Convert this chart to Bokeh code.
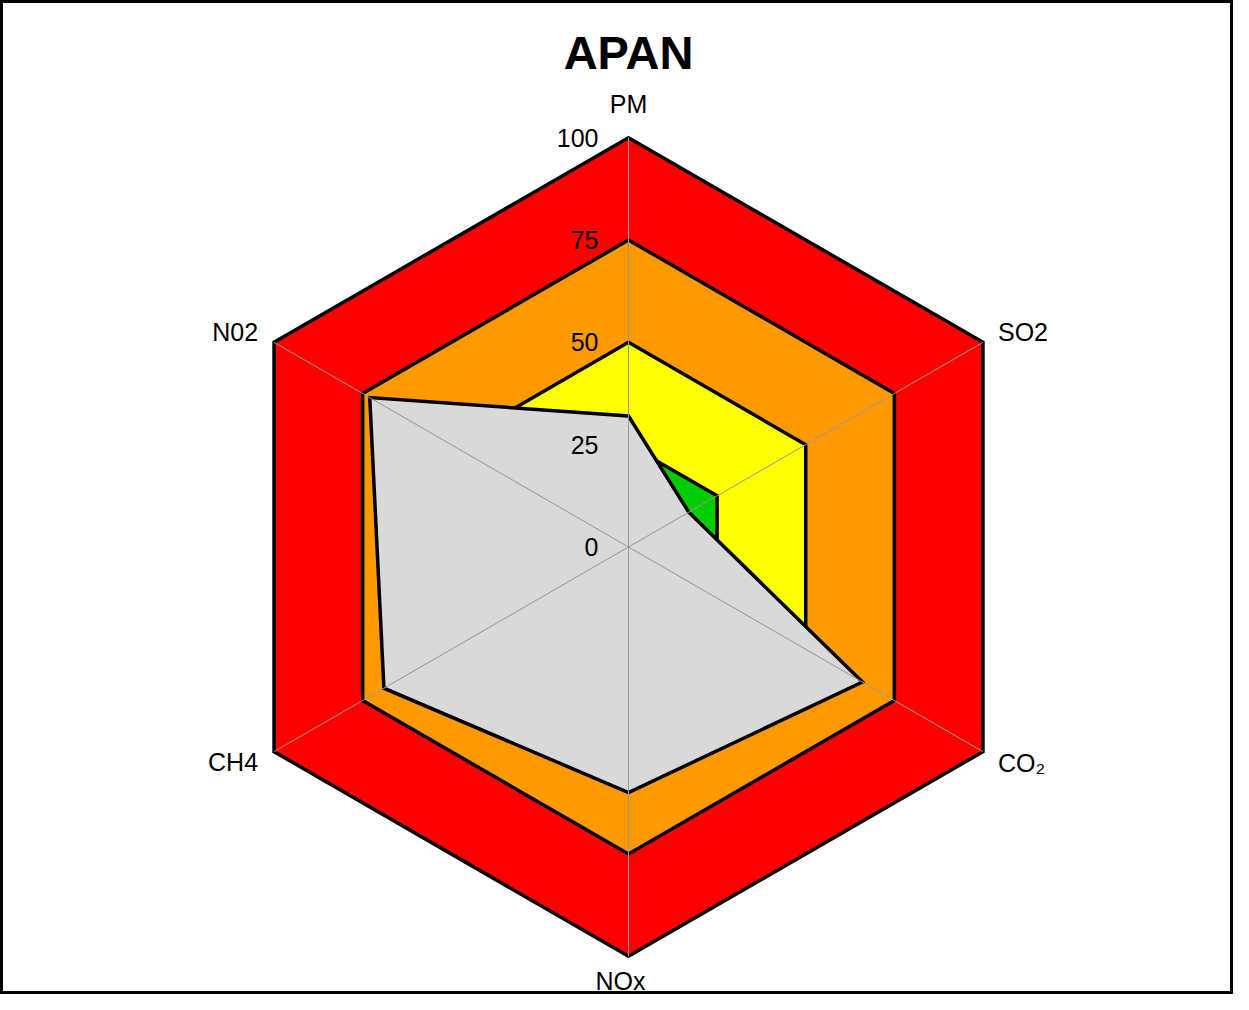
import numpy as np
from bokeh.plotting import figure
from bokeh.models import Label
from bokeh.embed import file_html
from bokeh.resources import INLINE
from bokeh.core.properties import value

title_text = "APAN"
categories = ["PM", "SO2", "CO₂", "NOx", "CH4", "N02"]
red_vals = [100, 100, 100, 100, 100, 100]
orange_vals = [75, 75, 75, 75, 75, 75]
yellow_vals = [50, 50, 50, 50, 50, 50]
green_vals = [25, 25, 25, 25, 25, 25]
gray_vals = [32, 17, 66, 60, 69, 73]
tick_vals = [0, 25, 50, 75, 100]
tick_labels = ["0", "25", "50", "75", "100"]

series = [
    (red_vals, "#FF0000"),
    (orange_vals, "#FF9900"),
    (yellow_vals, "#FFFF00"),
    (green_vals, "#00CC00"),
    (gray_vals, "#D9D9D9"),
]

W, H = 1233, 994
scale = 4.093  # px per unit
cx, cy = 628.0, 546.5  # center in canvas px (from left, from top)

p = figure(width=W, height=H, output_backend="svg", toolbar_location=None,
           x_range=(-cx / scale, (W - cx) / scale),
           y_range=(-(H - cy) / scale, cy / scale),
           min_border=0, match_aspect=False)
p.axis.visible = False
p.grid.visible = False
p.outline_line_color = "black"
p.outline_line_width = 5
p.background_fill_color = "white"

n = len(categories)
angles = np.pi / 2 - np.arange(n) * 2 * np.pi / n


def pts(vals):
    v = np.asarray(vals, dtype=float)
    return list(v * np.cos(angles)), list(v * np.sin(angles))


for vals, col in series:
    xs, ys = pts(vals)
    p.patch(xs, ys, fill_color=col, line_color="black", line_width=3.5,
            line_join="miter")

# spokes
for a in angles:
    p.line([0, 100 * np.cos(a)], [0, 100 * np.sin(a)], line_color="#999999",
           line_width=1)

# category labels
lx, ly = pts([100] * n)
lab_align = ["center", "left", "left", "center", "right", "right"]
lab_xoff = [0, 15, 15, -8, -16, -16]
lab_yoff = [-34, -10, 11, 25, 10, -10]
p.text(x=lx, y=ly, text=categories, text_align=lab_align, text_baseline="middle",
       x_offset=lab_xoff, y_offset=lab_yoff, text_font=value("Liberation Sans"),
       text_font_size="25px", text_color="black")

# tick labels
p.text(x=[0] * len(tick_vals), y=tick_vals, text=tick_labels, text_align="right",
       text_baseline="middle", x_offset=-30, text_font=value("Liberation Sans"),
       text_font_size="25px", text_color="black")

p.add_layout(Label(x=cx, y=H - 52, x_units="screen", y_units="screen",
                   text=title_text, text_align="center", text_baseline="middle",
                   text_font="Liberation Sans", text_font_style="bold",
                   text_font_size="47px", text_color="black"))

open("out.html", "w").write(file_html(p, INLINE))
